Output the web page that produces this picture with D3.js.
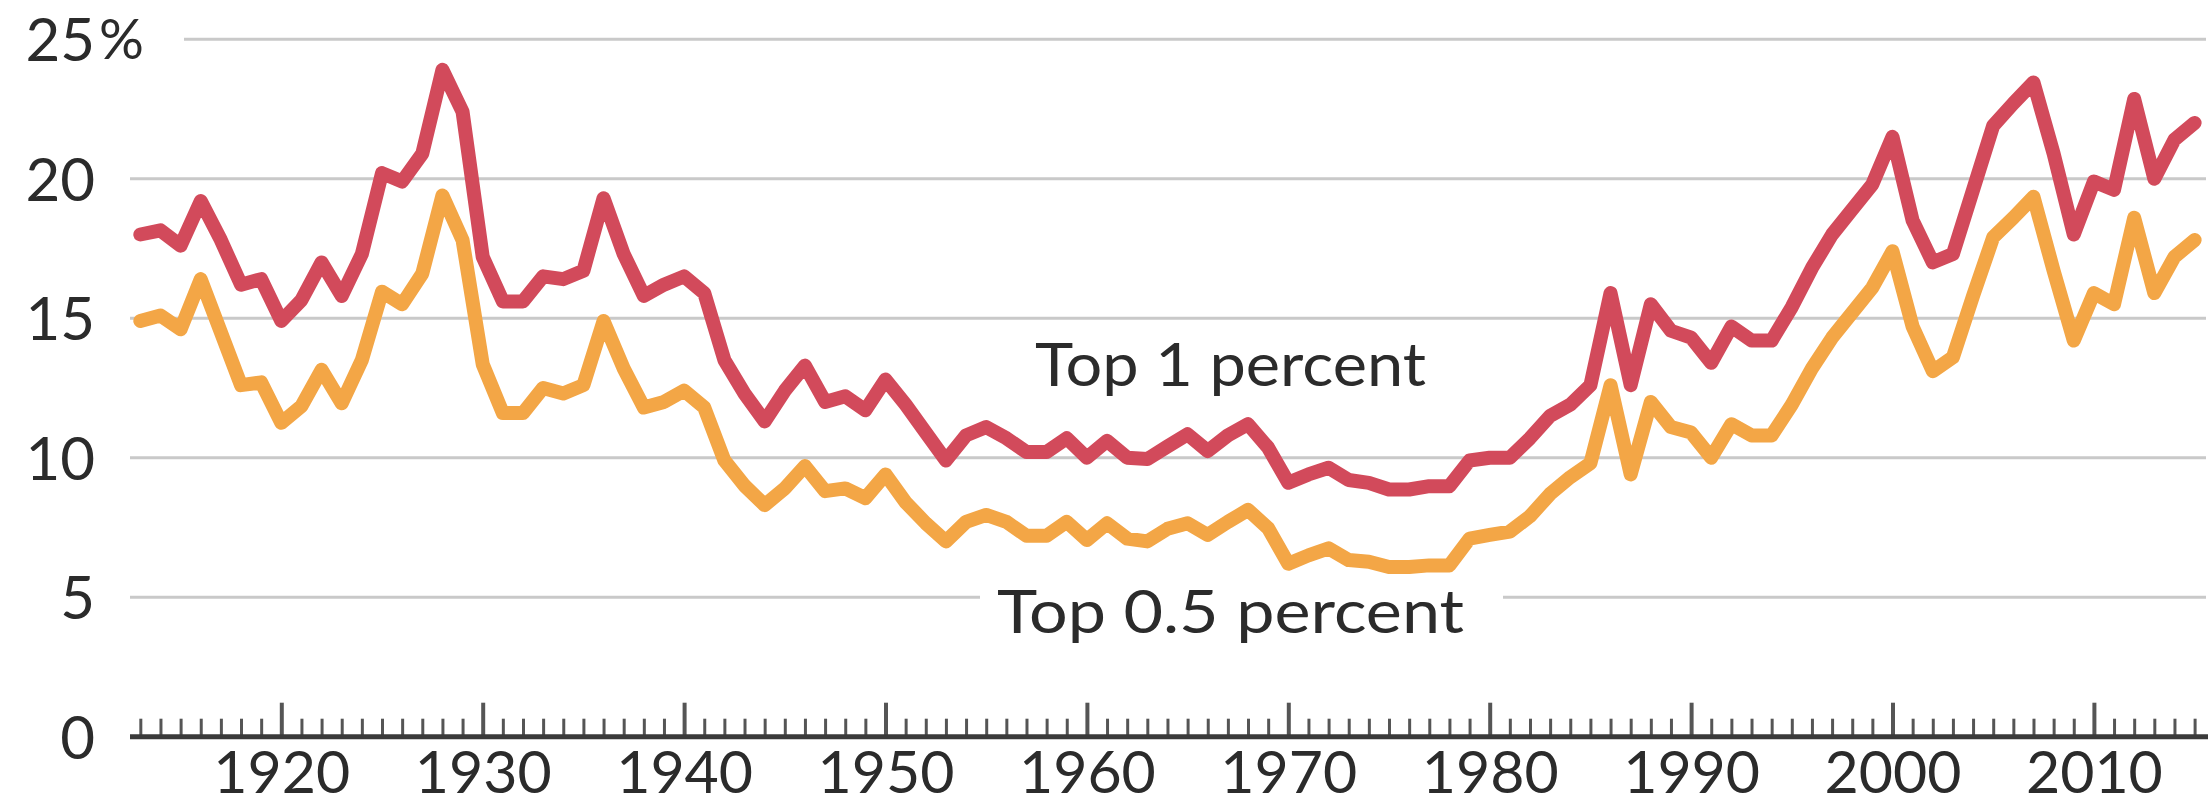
<!DOCTYPE html>
<html>
<head>
<meta charset="utf-8">
<script src="https://cdn.jsdelivr.net/npm/d3@7"></script>
<style>
  html, body { margin: 0; padding: 0; background: #ffffff; }
  svg { display: block; }
  text { font-family: Lato, "Open Sans", "DejaVu Sans", sans-serif; fill: #2b2b2b; }
</style>
</head>
<body>
<svg id="chart" width="2208" height="806"></svg>
<script>
// ---------------- data ----------------
const years = [
  1913,1914,1915,1916,1917,1918,1919,
  1920,1921,1922,1923,1924,1925,1926,1927,1928,1929,
  1930,1931,1932,1933,1934,1935,1936,1937,1938,1939,
  1940,1941,1942,1943,1944,1945,1946,1947,1948,1949,
  1950,1951,1952,1953,1954,1955,1956,1957,1958,1959,
  1960,1961,1962,1963,1964,1965,1966,1967,1968,1969,
  1970,1971,1972,1973,1974,1975,1976,1977,1978,1979,
  1980,1981,1982,1983,1984,1985,1986,1987,1988,1989,
  1990,1991,1992,1993,1994,1995,1996,1997,1998,1999,
  2000,2001,2002,2003,2004,2005,2006,2007,2008,2009,
  2010,2011,2012,2013,2014,2015
];

// Top 1 percent share (%)
const top1 = [
  18.0,18.15,17.6,19.2,17.8,16.2,16.4,
  14.9,15.65,17.0,15.8,17.3,20.2,19.9,20.9,23.9,22.4,
  17.2,15.6,15.6,16.5,16.4,16.7,19.3,17.3,15.8,16.2,
  16.5,15.9,13.5,12.3,11.3,12.4,13.3,12.0,12.2,11.7,
  12.8,11.9,10.9,9.9,10.8,11.1,10.7,10.2,10.2,10.7,
  10.0,10.6,10.0,9.95,10.4,10.84,10.24,10.8,11.2,10.36,
  9.1,9.4,9.64,9.2,9.1,8.86,8.86,8.98,8.98,9.9,
  10.0,10.0,10.7,11.5,11.9,12.6,15.9,12.6,15.5,14.55,
  14.3,13.4,14.7,14.2,14.2,15.4,16.8,18.0,18.9,19.8,
  21.5,18.5,17.0,17.3,19.6,21.9,22.7,23.45,20.9,18.0,
  19.9,19.6,22.86,20.0,21.4,22.0
];

// Top 0.5 percent share (%)
const top05 = [
  14.9,15.1,14.6,16.4,14.5,12.6,12.7,
  11.25,11.85,13.15,11.95,13.5,15.95,15.5,16.6,19.4,17.8,
  13.35,11.6,11.6,12.5,12.3,12.6,14.9,13.2,11.8,12.0,
  12.4,11.8,9.9,9.0,8.3,8.9,9.7,8.8,8.9,8.55,
  9.4,8.4,7.65,7.0,7.7,7.95,7.7,7.2,7.2,7.7,
  7.05,7.65,7.1,7.0,7.45,7.65,7.23,7.7,8.13,7.47,
  6.2,6.5,6.75,6.33,6.27,6.08,6.08,6.14,6.14,7.1,
  7.23,7.35,7.9,8.7,9.3,9.8,12.6,9.4,12.0,11.1,
  10.9,10.0,11.2,10.8,10.8,11.9,13.2,14.3,15.2,16.1,
  17.4,14.7,13.1,13.6,15.8,17.9,18.6,19.35,16.7,14.2,
  15.9,15.5,18.6,15.9,17.2,17.8
];

const xTickLabels = ["1920","1930","1940","1950","1960","1970","1980","1990","2000","2010"];
const yTicks = [0, 5, 10, 15, 20, 25];
const seriesNames = ["Top 1 percent", "Top 0.5 percent"];

// ---------------- layout ----------------
const svg = d3.select("#chart");
const x = d3.scaleLinear().domain([1920, 2010]).range([281.3, 2093.9]);
const y = d3.scaleLinear().domain([0, 25]).range([736.7, 39.2]);

const axisLeftX = 130;
const rightX = 2206;
const red = "#d24a5b";
const orange = "#f3a646";

// gridlines
const gridG = svg.append("g");
gridG.selectAll("line").data(yTicks.filter(d => d > 0)).join("line")
  .attr("x1", d => d === 25 ? 184 : axisLeftX)
  .attr("x2", rightX)
  .attr("y1", d => y(d)).attr("y2", d => y(d))
  .attr("stroke", "#c9c9c9")
  .attr("stroke-width", 3);

// y labels via axis
const yAxis = d3.axisLeft(y).tickValues(yTicks).tickSize(0).tickPadding(0)
  .tickFormat(d => String(d));
const yG = svg.append("g").attr("transform", "translate(95,0)").call(yAxis);
yG.select(".domain").remove();
yG.selectAll("text")
  .attr("font-size", 60)
  .attr("font-family", "Lato, 'Open Sans', sans-serif")
  .attr("fill", "#2b2b2b")
  .attr("dy", "0.36em");
svg.append("text")
  .attr("x", 99).attr("y", y(25))
  .attr("dy", "0.36em")
  .attr("font-size", 56)
  .text("%");

// white knockout on the 5% gridline behind the lower series label
svg.append("rect")
  .attr("x", 980).attr("y", y(5) - 6).attr("width", 523).attr("height", 12)
  .attr("fill", "#ffffff");

svg.append("text")
  .attr("x", 997).attr("y", 633)
  .attr("font-size", 60)
  .attr("textLength", 467).attr("lengthAdjust", "spacingAndGlyphs")
  .text(seriesNames[1]);

svg.append("text")
  .attr("x", 1035).attr("y", 386)
  .attr("font-size", 60)
  .attr("textLength", 391).attr("lengthAdjust", "spacingAndGlyphs")
  .text(seriesNames[0]);

// x axis
const xAxis = d3.axisBottom(x).tickValues(years).tickSize(18).tickPadding(0)
  .tickFormat(d => xTickLabels.includes(String(d)) ? String(d) : "");
const xG = svg.append("g").attr("transform", `translate(0,${y(0)})`).call(xAxis);
xG.select(".domain").remove();
xG.selectAll(".tick line")
  .attr("y1", 0)
  .attr("y2", d => xTickLabels.includes(String(d)) ? -34 : -18)
  .attr("stroke", "#555")
  .attr("stroke-width", d => xTickLabels.includes(String(d)) ? 4 : 3);
xG.selectAll(".tick text")
  .attr("y", 56).attr("dy", 0)
  .attr("font-size", 59)
  .attr("font-family", "Lato, 'Open Sans', sans-serif")
  .attr("fill", "#2b2b2b");
xG.append("line")
  .attr("x1", axisLeftX).attr("x2", 2208)
  .attr("y1", 0).attr("y2", 0)
  .attr("stroke", "#3a3a3a").attr("stroke-width", 5);

// lines
const line = d3.line()
  .x((d, i) => x(years[i]))
  .y(d => y(d));

svg.append("path").datum(top05)
  .attr("d", line)
  .attr("fill", "none")
  .attr("stroke", orange)
  .attr("stroke-width", 14)
  .attr("stroke-linejoin", "round")
  .attr("stroke-linecap", "round");

svg.append("path").datum(top1)
  .attr("d", line)
  .attr("fill", "none")
  .attr("stroke", red)
  .attr("stroke-width", 14)
  .attr("stroke-linejoin", "round")
  .attr("stroke-linecap", "round");
</script>
</body>
</html>
